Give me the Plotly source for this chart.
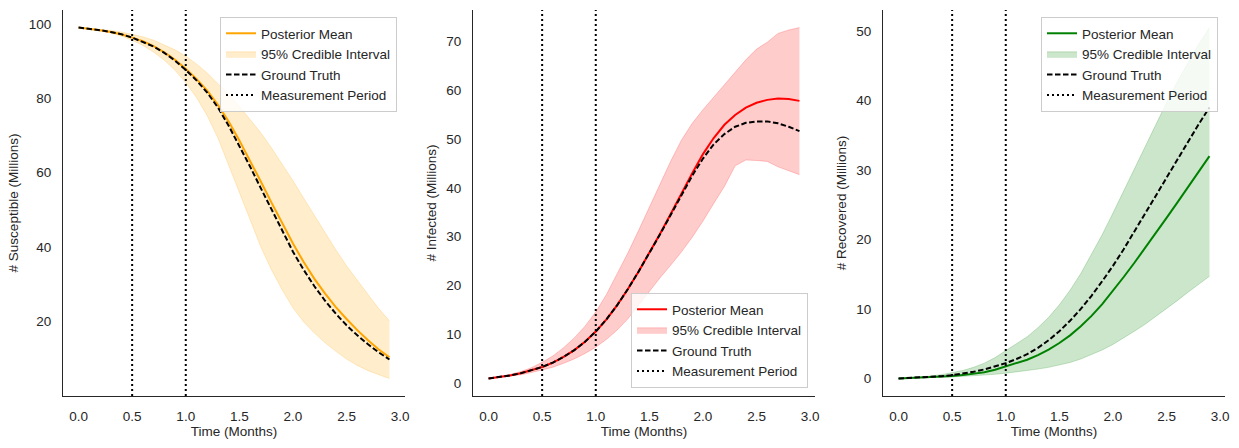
import plotly.graph_objects as go

# ---------------- data ----------------
time_months = [0.0, 0.1, 0.2, 0.3, 0.4, 0.5, 0.6, 0.7, 0.8, 0.9,
               1.0, 1.1, 1.2, 1.3, 1.4, 1.5, 1.6, 1.7, 1.8, 1.9,
               2.0, 2.1, 2.2, 2.3, 2.4, 2.5, 2.6, 2.7, 2.8, 2.9]
measurement_period = [0.5, 1.0]

# Susceptible
s_truth = [99.0, 98.7, 98.3, 97.8, 97.2, 96.3, 95.2, 93.9, 92.2, 90.1,
           87.6, 84.8, 81.5, 77.5, 72.6, 67.2, 61.6, 55.8, 50.0, 44.2,
           38.7, 33.8, 29.4, 25.5, 22.0, 18.9, 16.2, 13.8, 11.6, 9.7]
s_mean = [99.0, 98.7, 98.3, 97.8, 97.2, 96.3, 95.3, 94.0, 92.3, 90.3,
          87.9, 85.2, 82.0, 78.2, 73.7, 68.6, 63.2, 57.6, 51.9, 46.3,
          40.9, 35.9, 31.4, 27.4, 23.8, 20.6, 17.6, 14.9, 12.4, 10.3]
s_upper = [99.0, 98.8, 98.6, 98.2, 97.8, 97.2, 96.5, 95.6, 94.4, 93.0,
           91.3, 89.2, 86.8, 84.0, 81.0, 77.8, 74.4, 70.7, 66.6, 62.3,
           57.8, 53.1, 48.4, 43.7, 39.2, 34.9, 30.9, 27.2, 23.4, 20.1]
s_lower = [99.0, 98.6, 98.1, 97.5, 96.7, 95.6, 94.2, 92.4, 90.2, 87.5,
           84.2, 80.2, 75.3, 69.3, 62.0, 54.3, 46.9, 40.0, 33.8, 28.4,
           23.6, 19.8, 16.8, 14.2, 11.9, 9.8, 8.1, 6.7, 5.6, 4.6]

# Infected
i_truth = [1.0, 1.27, 1.62, 2.06, 2.63, 3.35, 4.25, 5.4, 6.8, 8.5,
           10.6, 13.1, 16.0, 19.3, 22.9, 26.6, 30.5, 34.5, 38.5, 42.5,
           46.0, 48.9, 51.0, 52.5, 53.3, 53.6, 53.6, 53.2, 52.5, 51.6]
i_mean = [1.0, 1.27, 1.62, 2.06, 2.63, 3.35, 4.25, 5.4, 6.8, 8.5,
          10.6, 13.1, 16.0, 19.3, 22.9, 26.6, 30.6, 34.7, 38.9, 43.0,
          46.9, 50.2, 52.9, 54.9, 56.4, 57.4, 58.0, 58.3, 58.2, 57.8]
i_upper = [1.0, 1.35, 1.8, 2.4, 3.2, 4.3, 5.6, 7.3, 9.3, 11.7,
           14.6, 18.2, 22.3, 26.7, 31.3, 36.0, 40.8, 45.5, 49.8, 53.2,
           56.0, 58.6, 61.1, 63.6, 66.2, 68.4, 69.8, 71.6, 72.3, 72.8]
i_lower = [1.0, 1.2, 1.45, 1.75, 2.2, 2.7, 3.3, 4.1, 5.0, 6.1,
           7.4, 9.0, 10.9, 13.2, 16.0, 19.0, 21.6, 24.2, 26.9, 29.9,
           33.2, 36.8, 40.3, 44.5, 45.7, 45.6, 45.4, 44.3, 43.5, 42.7]

# Recovered
r_truth = [0.0, 0.06, 0.13, 0.22, 0.33, 0.48, 0.68, 0.95, 1.3, 1.7,
           2.2, 2.8, 3.5, 4.4, 5.5, 6.8, 8.3, 10.0, 11.9, 14.0,
           16.2, 18.6, 21.1, 23.7, 26.3, 28.9, 31.5, 34.1, 36.6, 39.0]
r_mean = [0.0, 0.05, 0.1, 0.17, 0.25, 0.35, 0.48, 0.66, 0.9, 1.25,
          1.7, 2.15, 2.7, 3.35, 4.15, 5.1, 6.2, 7.5, 9.0, 10.7,
          12.6, 14.6, 16.65, 18.75, 20.9, 23.1, 25.3, 27.55, 29.8, 32.0]
r_upper = [0.0, 0.1, 0.2, 0.35, 0.55, 0.8, 1.15, 1.6, 2.2, 3.0,
           4.0, 4.9, 6.0, 7.3, 8.8, 10.6, 12.7, 15.1, 17.8, 20.7,
           23.8, 27.0, 30.2, 33.4, 36.6, 39.7, 42.7, 45.5, 48.1, 50.5]
r_lower = [0.0, 0.03, 0.07, 0.11, 0.16, 0.22, 0.3, 0.38, 0.48, 0.6,
           0.75, 0.92, 1.12, 1.35, 1.6, 1.9, 2.3, 2.8, 3.4, 4.1,
           4.9, 5.8, 6.8, 7.8, 8.9, 10.0, 11.2, 12.4, 13.6, 14.7]

panels = [
    dict(mean=s_mean, lo=s_lower, hi=s_upper, truth=s_truth, color=(255, 165, 0),
         ylabel="# Susceptible (Millions)", yticks=[20, 40, 60, 80, 100]),
    dict(mean=i_mean, lo=i_lower, hi=i_upper, truth=i_truth, color=(255, 0, 0),
         ylabel="# Infected (Millions)", yticks=[0, 10, 20, 30, 40, 50, 60, 70]),
    dict(mean=r_mean, lo=r_lower, hi=r_upper, truth=r_truth, color=(0, 128, 0),
         ylabel="# Recovered (Millions)", yticks=[0, 10, 20, 30, 40, 50]),
]
x_ticks = [0.0, 0.5, 1.0, 1.5, 2.0, 2.5, 3.0]

# ---------------- layout geometry ----------------
W, H = 1239, 448
x_domains = [[63 / W, 405 / W], [473 / W, 815 / W], [883 / W, 1225 / W]]
y_domain = [1 - 396 / H, 1 - 10 / H]
legend_pos = [
    dict(x=397 / W, y=1 - 17 / H, xanchor="right", yanchor="top"),
    dict(x=808 / W, y=1 - 388 / H, xanchor="right", yanchor="bottom"),
    dict(x=1218 / W, y=1 - 17 / H, xanchor="right", yanchor="top"),
]

FONT = "Liberation Sans, Arial, sans-serif"
INK = "#262626"

fig = go.Figure()
layout = dict(
    width=W, height=H,
    margin=dict(l=0, r=0, t=0, b=0, autoexpand=False),
    paper_bgcolor="white", plot_bgcolor="white",
    font=dict(family=FONT, size=13.5, color=INK),
    showlegend=True,
)

xmin, xmax = min(time_months), max(time_months)
xpad = 0.05 * (xmax - xmin)

for k, p in enumerate(panels):
    n = "" if k == 0 else str(k + 1)
    xa, ya = "x" + n, "y" + n
    leg = "legend" + n
    r, g, b = p["color"]
    solid = f"rgb({r},{g},{b})"
    band = f"rgba({r},{g},{b},0.2)"

    ymin = min(p["lo"] + p["mean"] + p["truth"])
    ymax = max(p["hi"] + p["mean"] + p["truth"])
    ypad = 0.05 * (ymax - ymin)
    yrange = [ymin - ypad, ymax + ypad]

    fig.add_trace(go.Scatter(x=time_months, y=p["lo"], xaxis=xa, yaxis=ya, mode="lines",
                             line=dict(color=band, width=1), showlegend=False,
                             hoverinfo="skip", legend=leg))
    fig.add_trace(go.Scatter(x=time_months, y=p["hi"], xaxis=xa, yaxis=ya, mode="lines",
                             line=dict(color=band, width=1), fill="tonexty", fillcolor=band,
                             name="95% Credible Interval", legendrank=2, legend=leg))
    fig.add_trace(go.Scatter(x=time_months, y=p["mean"], xaxis=xa, yaxis=ya, mode="lines",
                             line=dict(color=solid, width=2), name="Posterior Mean",
                             legendrank=1, legend=leg))
    fig.add_trace(go.Scatter(x=time_months, y=p["truth"], xaxis=xa, yaxis=ya, mode="lines",
                             line=dict(color="black", width=2, dash="5.5px,2.5px"),
                             name="Ground Truth", legendrank=3, legend=leg))
    vx, vy = [], []
    for t in measurement_period:
        vx += [t, t, None]
        vy += [yrange[0], yrange[1], None]
    fig.add_trace(go.Scatter(x=vx, y=vy, xaxis=xa, yaxis=ya, mode="lines",
                             line=dict(color="black", width=2, dash="2px,3px"),
                             name="Measurement Period", legendrank=4, legend=leg))

    axis_common = dict(showgrid=False, zeroline=False, showline=True, linecolor=INK,
                       linewidth=1.25, ticks="", tickfont=dict(size=13.5, color=INK),
                       ticklabelstandoff=8, automargin=False)
    layout["xaxis" + n] = dict(domain=x_domains[k], anchor=ya, range=[xmin - xpad, xmax + xpad],
                               tickvals=x_ticks, ticktext=[f"{v:.1f}" for v in x_ticks],
                               title=dict(text="Time (Months)", standoff=2,
                                          font=dict(size=13.5, color=INK)),
                               **axis_common)
    layout["yaxis" + n] = dict(domain=y_domain, anchor=xa, range=yrange,
                               tickvals=p["yticks"], ticktext=[str(v) for v in p["yticks"]],
                               title=dict(text=p["ylabel"], standoff=6,
                                          font=dict(size=13.5, color=INK)),
                               **axis_common)
    layout[leg] = dict(**legend_pos[k], bgcolor="rgba(255,255,255,0.8)",
                       bordercolor="#cccccc", borderwidth=1, traceorder="normal",
                       font=dict(size=13.5, color=INK), itemwidth=30,
                       tracegroupgap=0)

fig.update_layout(**layout)
fig.write_html("out.html", config={"displayModeBar": False},
               post_script="document.body.style.margin='0px';")
